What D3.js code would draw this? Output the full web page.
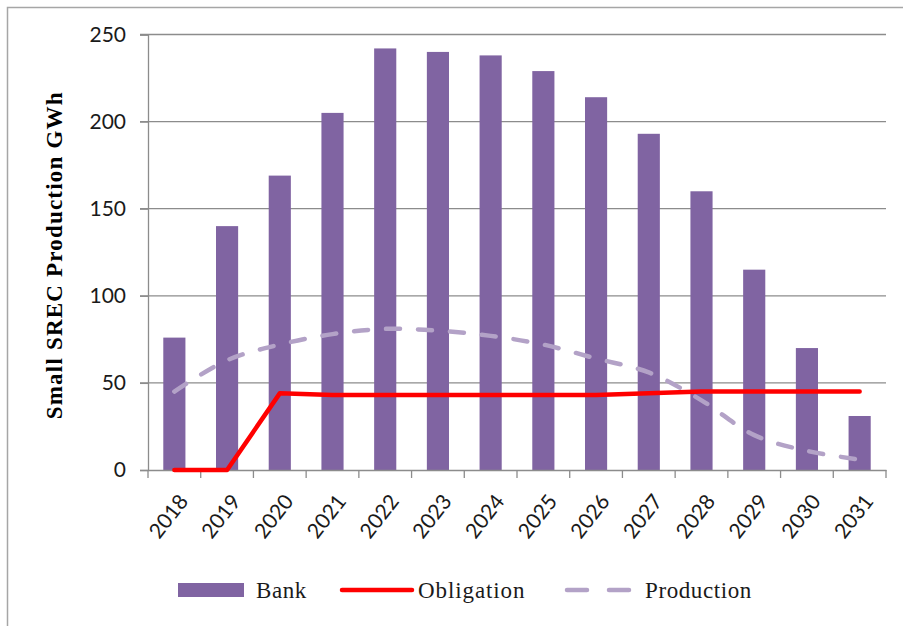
<!DOCTYPE html>
<html>
<head>
<meta charset="utf-8">
<script src="https://cdn.jsdelivr.net/npm/d3@7"></script>
<style>
  body { margin: 0; background: #fff; }
  svg { display: block; }
</style>
</head>
<body>
<svg id="chart"></svg>
<script>
let years = ["2018", "2019", "2020", "2021", "2022", "2023", "2024", "2025", "2026", "2027", "2028", "2029", "2030", "2031"];
let bank = [76, 140, 169, 205, 242, 240, 238, 229, 214, 193, 160, 115, 70, 31];
let obligation = [0, 0, 44, 43, 43, 43, 43, 43, 43, 44, 45, 45, 45, 45];
let production = [45, 63, 72, 78, 81, 80, 77, 72, 64, 56, 40, 20, 11, 6];
let yTicks = [0, 50, 100, 150, 200, 250];

function drawChart() {
    let width = 903, height = 626;
    let svg = d3.select("#chart").attr("width", width).attr("height", height);

    // outer frame
    svg.append("rect")
        .attr("x", 7.5).attr("y", 7.5)
        .attr("width", 910).attr("height", 640)
        .attr("fill", "none")
        .attr("stroke", "#a6a6a6")
        .attr("stroke-width", 1.5);

    let left = 148, right = 886, top = 34.5, bottom = 470;

    let x = d3.scaleBand().domain(years).range([left, right]).padding(0);
    let y = d3.scaleLinear().domain([0, 250]).range([bottom, top]);

    // gridlines
    svg.append("g").selectAll("line").data(yTicks.filter(d => d > 0))
        .enter().append("line")
        .attr("x1", left - 8).attr("x2", right)
        .attr("y1", d => y(d)).attr("y2", d => y(d))
        .attr("stroke", "#8c8c8c").attr("stroke-width", 1.3);

    // y axis
    let yAxis = d3.axisLeft(y).tickValues(yTicks).tickSize(8).tickPadding(14);
    let gy = svg.append("g").attr("transform", "translate(" + left + ",0)").call(yAxis);
    gy.select(".domain").attr("stroke", "#8c8c8c").attr("stroke-width", 1.3);
    gy.selectAll(".tick line").attr("stroke", "#8c8c8c").attr("stroke-width", 1.3);
    gy.selectAll(".tick text")
        .attr("font-family", "Lato, 'Open Sans', sans-serif")
        .attr("font-size", 21)
        .attr("fill", "#1a1a1a");

    // bars
    let barW = x.bandwidth() * 0.42;
    svg.append("g").selectAll("rect").data(bank)
        .enter().append("rect")
        .attr("x", (d, i) => x(years[i]) + (x.bandwidth() - barW) / 2)
        .attr("y", d => y(d))
        .attr("width", barW)
        .attr("height", d => y(0) - y(d))
        .attr("fill", "#8064a2");

    // x axis
    let xAxis = d3.axisBottom(x).tickSize(0).tickFormat("");
    let gx = svg.append("g").attr("transform", "translate(0," + bottom + ")").call(xAxis);
    gx.select(".domain").attr("stroke", "#8c8c8c").attr("stroke-width", 1.3);
    let edges = years.map(d => x(d)).concat([right]);
    gx.selectAll("line.edge").data(edges)
        .enter().append("line").attr("class", "edge")
        .attr("x1", d => d).attr("x2", d => d)
        .attr("y1", 0).attr("y2", 8)
        .attr("stroke", "#8c8c8c").attr("stroke-width", 1.3);
    gx.selectAll("text.lbl").data(years)
        .enter().append("text").attr("class", "lbl")
        .attr("transform", d => "translate(" + (x(d) + x.bandwidth() / 2 + 9) + ",27) rotate(-52)")
        .attr("text-anchor", "end")
        .attr("dy", "0.35em")
        .attr("font-family", "Lato, 'Open Sans', sans-serif")
        .attr("font-size", 21)
        .attr("fill", "#1a1a1a")
        .text(d => d);

    let cx = (d, i) => x(years[i]) + x.bandwidth() / 2;

    // production (smoothed dashed)
    let prodLine = d3.line().x(cx).y(d => y(d)).curve(d3.curveCatmullRom.alpha(0.5));
    svg.append("path")
        .attr("d", prodLine(production))
        .attr("fill", "none")
        .attr("stroke", "#b3a2c7")
        .attr("stroke-width", 4.5)
        .attr("stroke-linecap", "round")
        .attr("stroke-dasharray", "14,18");

    // obligation
    let oblLine = d3.line().x(cx).y(d => y(d));
    svg.append("path")
        .attr("d", oblLine(obligation))
        .attr("fill", "none")
        .attr("stroke", "#ff0000")
        .attr("stroke-width", 4.5)
        .attr("stroke-linejoin", "round")
        .attr("stroke-linecap", "round");

    // y title
    svg.append("text")
        .attr("transform", "translate(62," + ((top + bottom) / 2 + 3) + ") rotate(-90)")
        .attr("text-anchor", "middle")
        .attr("font-family", "'Liberation Serif', 'Times New Roman', serif")
        .attr("font-weight", "bold")
        .attr("font-size", 23)
        .attr("letter-spacing", 1.2)
        .attr("fill", "#000")
        .text("Small SREC Production GWh");

    // legend
    let ly = 590;
    let legendFont = "'Liberation Serif', 'Times New Roman', serif";
    let lg = svg.append("g");
    lg.append("rect").attr("x", 178).attr("y", ly - 7).attr("width", 66).attr("height", 14).attr("fill", "#8064a2");
    lg.append("text").attr("x", 256).attr("y", ly).attr("dy", "0.35em")
        .attr("font-family", legendFont).attr("font-size", 23).attr("letter-spacing", 0.6)
        .attr("fill", "#1a1a1a").text("Bank");
    lg.append("line").attr("x1", 342).attr("x2", 412).attr("y1", ly).attr("y2", ly)
        .attr("stroke", "#ff0000").attr("stroke-width", 4.5).attr("stroke-linecap", "round");
    lg.append("text").attr("x", 418).attr("y", ly).attr("dy", "0.35em")
        .attr("font-family", legendFont).attr("font-size", 23).attr("letter-spacing", 0.9)
        .attr("fill", "#1a1a1a").text("Obligation");
    lg.append("line").attr("x1", 567).attr("x2", 633).attr("y1", ly).attr("y2", ly)
        .attr("stroke", "#b3a2c7").attr("stroke-width", 4.5).attr("stroke-linecap", "round")
        .attr("stroke-dasharray", "20,22");
    lg.append("text").attr("x", 645).attr("y", ly).attr("dy", "0.35em")
        .attr("font-family", legendFont).attr("font-size", 23).attr("letter-spacing", 0.6)
        .attr("fill", "#1a1a1a").text("Production");
}

drawChart();
</script>
</body>
</html>
